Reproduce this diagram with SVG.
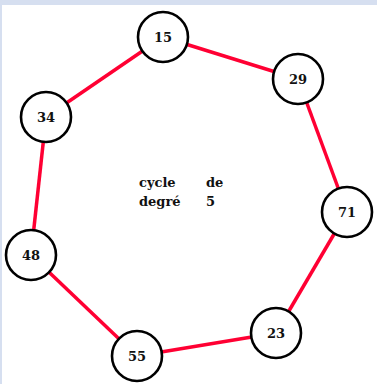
<svg xmlns="http://www.w3.org/2000/svg" width="377" height="384" viewBox="0 0 377 384">
  <style>
    .edge { stroke: #ff0033; stroke-width: 3.5; stroke-linecap: butt; }
    .node circle { fill: #ffffff; stroke: #000000; stroke-width: 2.6; }
    .node text, .caption { font-family: "DejaVu Serif", "Liberation Serif", serif; font-weight: bold; font-size: 13px; fill: #111111; }
    .node text { text-anchor: middle; dominant-baseline: central; }
  </style>
  <!-- frame -->
  <rect x="0" y="0" width="377" height="384" fill="#ffffff"/>
  <rect x="0" y="0" width="377" height="5" fill="#d6dff0"/>
  <rect x="0" y="0" width="2" height="384" fill="#d6dff0"/>

  <!-- cycle edges -->
  <g id="edges">
    <line class="edge" x1="163" y1="37" x2="298" y2="79"/>
    <line class="edge" x1="298" y1="79" x2="347" y2="212"/>
    <line class="edge" x1="347" y1="212" x2="276" y2="333"/>
    <line class="edge" x1="276" y1="333" x2="137" y2="356"/>
    <line class="edge" x1="137" y1="356" x2="31" y2="255"/>
    <line class="edge" x1="31" y1="255" x2="46" y2="117"/>
    <line class="edge" x1="46" y1="117" x2="163" y2="37"/>
  </g>

  <g id="n15" class="node"><circle cx="163" cy="37" r="25"/><text x="163" y="37">15</text></g>
  <g id="n29" class="node"><circle cx="298" cy="79" r="25"/><text x="298" y="79">29</text></g>
  <g id="n71" class="node"><circle cx="347" cy="212" r="25"/><text x="347" y="212">71</text></g>
  <g id="n23" class="node"><circle cx="276" cy="333" r="25"/><text x="276" y="333">23</text></g>
  <g id="n55" class="node"><circle cx="137" cy="356" r="25"/><text x="137" y="356">55</text></g>
  <g id="n48" class="node"><circle cx="31" cy="255" r="25"/><text x="31" y="255">48</text></g>
  <g id="n34" class="node"><circle cx="46" cy="117" r="25"/><text x="46" y="117">34</text></g>

  <g id="caption">
    <text class="caption" x="139" y="187">cycle</text>
    <text class="caption" x="206" y="187">de</text>
    <text class="caption" x="139" y="206">degré</text>
    <text class="caption" x="206" y="206">5</text>
  </g>
</svg>
